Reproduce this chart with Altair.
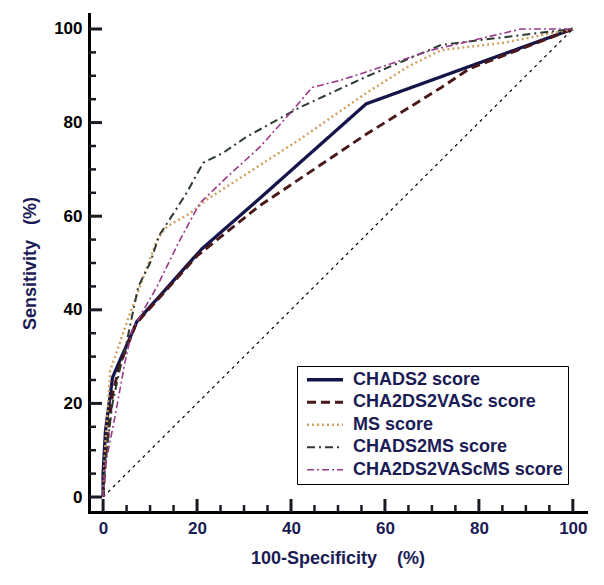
import altair as alt
import pandas as pd

NAVY = "#1b1b55"
FONT = "Liberation Sans"
TICK = "#1a1a22"
PLOT_W = 497
PLOT_H = 498

series_names = ["CHADS2 score", "CHA2DS2VASc score", "MS score", "CHADS2MS score", "CHA2DS2VAScMS score"]
series_colors = ["#15154a", "#4a1818", "#d0a060", "#2e3b30", "#9a3a8a"]
series_dashes = [[1, 0], [9, 5], [2, 3], [8, 4, 2, 4], [7, 3, 2, 3]]
series_widths = [3.3, 1.6, 1.3, 1.6, 1.6]

chads2_x = [0, 0, 0.5, 2, 3.5, 5.5, 7.2, 21, 33, 56, 100]
chads2_y = [0, 5, 14, 25.5, 29, 33.5, 37.5, 53, 63.5, 84, 100]

cha2ds2vasc_x = [0, 0.5, 2, 3.5, 7, 20, 33, 56, 72, 78, 100]
cha2ds2vasc_y = [0, 8, 22, 28, 37, 51.5, 62, 77.5, 87.5, 91.5, 100]

ms_x = [0, 0.4, 1.5, 5.3, 11.5, 13.6, 18.5, 22, 42, 56, 65, 72, 85, 100]
ms_y = [0, 10, 27, 38, 55, 57.8, 60.6, 63.5, 76.5, 86.3, 92, 95.5, 97, 100]

chads2ms_x = [0, 0.5, 2, 3.5, 5, 7.5, 10, 12, 15, 17.8, 21.3, 25.5, 30.6, 42, 56, 72, 91.5, 100]
chads2ms_y = [0, 8, 20, 27, 33, 45, 50, 56, 60.6, 65, 71.4, 73.5, 77, 83.3, 89.8, 96.6, 99, 100]

cha2ds2vascms_x = [0, 0.4, 2.5, 4.7, 6.2, 11.5, 16.4, 20.6, 26.4, 33.4, 39.8, 44.5, 50.4, 56, 70, 89, 100]
cha2ds2vascms_y = [0, 6.4, 17, 29, 35.7, 45, 55, 62.8, 68.4, 74.8, 82, 87.5, 89, 90.8, 95.5, 100, 100]

diag_x = [0, 100]
diag_y = [0, 100]

major_ticks = [0, 20, 40, 60, 80, 100]
minor_ticks = [5, 10, 15, 25, 30, 35, 45, 50, 55, 65, 70, 75, 85, 90, 95]

all_x = [chads2_x, cha2ds2vasc_x, ms_x, chads2ms_x, cha2ds2vascms_x]
all_y = [chads2_y, cha2ds2vasc_y, ms_y, chads2ms_y, cha2ds2vascms_y]

rows = []
for name, xs, ys in zip(series_names, all_x, all_y):
    for i, (xv, yv) in enumerate(zip(xs, ys)):
        rows.append({"series": name, "fpr": xv, "tpr": yv, "idx": i})
df = pd.DataFrame(rows)
diag_df = pd.DataFrame({"fpr": diag_x, "tpr": diag_y})
major_df = pd.DataFrame({"fpr": major_ticks, "tpr": major_ticks})
minor_df = pd.DataFrame({"fpr": minor_ticks, "tpr": minor_ticks})

x_scale = alt.Scale(domain=[-3, 102.8], nice=False, zero=False)
y_scale = alt.Scale(domain=[-3.2, 103.2], nice=False, zero=False)

x_axis = alt.Axis(
    values=major_ticks,
    title="100-Specificity\u00a0\u00a0\u00a0\u00a0(%)",
    ticks=False,
    labelPadding=8,
    labelColor=NAVY,
    titlePadding=13,
    grid=False,
    labelFlush=False,
    labelOverlap=False,
)
y_axis = alt.Axis(
    values=major_ticks,
    title="Sensitivity\u00a0\u00a0\u00a0(%)",
    ticks=False,
    labelPadding=7,
    labelColor="black",
    titlePadding=14,
    grid=False,
    labelFlush=False,
    labelOverlap=False,
)

legend = alt.Legend(
    title=None,
    orient="none",
    legendX=208,
    legendY=352,
    symbolType="stroke",
    symbolSize=1296,
    symbolOffset=3,
    labelOffset=8,
    clipHeight=17.5,
    rowPadding=3.5,
    padding=5,
    strokeColor="black",
    fillColor="white",
    labelFont=FONT,
    labelFontSize=18,
    labelFontWeight="bold",
    labelColor=NAVY,
    labelLimit=0,
)

X = alt.X("fpr:Q", scale=x_scale, axis=x_axis)
Y = alt.Y("tpr:Q", scale=y_scale, axis=y_axis)
Xp = alt.X("fpr:Q", scale=x_scale)
Yp = alt.Y("tpr:Q", scale=y_scale)

diag = alt.Chart(diag_df).mark_line(color="black", strokeDash=[3, 4], strokeWidth=1.2).encode(x=X, y=Y)

curves = alt.Chart(df).mark_line().encode(
    x=X,
    y=Y,
    color=alt.Color("series:N", scale=alt.Scale(domain=series_names, range=series_colors), legend=legend),
    strokeDash=alt.StrokeDash("series:N", scale=alt.Scale(domain=series_names, range=series_dashes), legend=legend),
    strokeWidth=alt.StrokeWidth("series:N", scale=alt.Scale(domain=series_names, range=series_widths), legend=legend),
    order=alt.Order("idx:Q"),
)

# inward tick marks along the axes (tick marks centred half their length inside the plot)
x_major = alt.Chart(major_df).mark_tick(color=TICK, orient="vertical", size=13, thickness=3, opacity=1).encode(
    x=Xp, y=alt.value(PLOT_H - 6.5))
x_minor = alt.Chart(minor_df).mark_tick(color=TICK, orient="vertical", size=7, thickness=2.5, opacity=1).encode(
    x=Xp, y=alt.value(PLOT_H - 3.5))
y_major = alt.Chart(major_df).mark_tick(color=TICK, orient="horizontal", size=13, thickness=3, opacity=1).encode(
    y=Yp, x=alt.value(6.5))
y_minor = alt.Chart(minor_df).mark_tick(color=TICK, orient="horizontal", size=7, thickness=2.5, opacity=1).encode(
    y=Yp, x=alt.value(3.5))

chart = (
    alt.layer(diag, curves, x_major, x_minor, y_major, y_minor)
    .properties(
        width=PLOT_W,
        height=PLOT_H,
        autosize=alt.AutoSizeParams(type="none"),
        padding={"left": 81, "top": 6, "right": 10, "bottom": 60},
        background="white",
    )
    .configure_view(stroke=None)
    .configure_axis(
        domainColor="black",
        domainWidth=3,
        domainCap="square",
        labelFont=FONT,
        labelFontSize=17,
        labelFontWeight="bold",
        titleFont=FONT,
        titleFontSize=18,
        titleFontWeight="bold",
        titleColor=NAVY,
    )
)

chart.save("out.html", embed_options={"renderer": "svg", "actions": False})
